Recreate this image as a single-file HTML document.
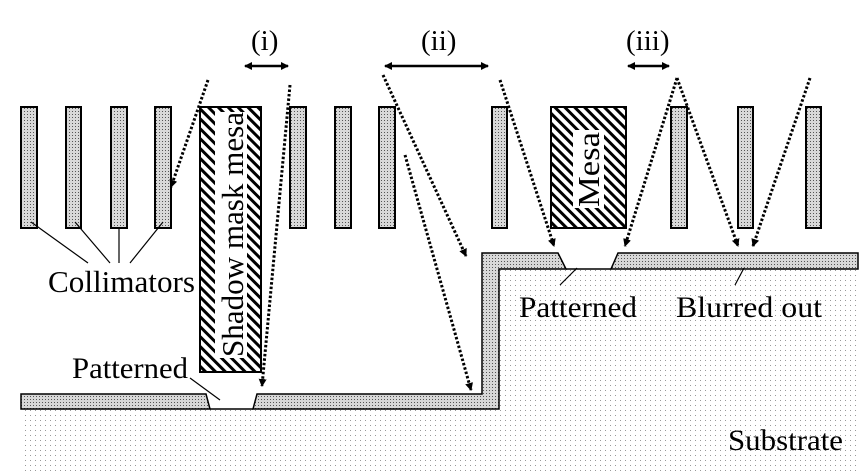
<!DOCTYPE html>
<html><head><meta charset="utf-8"><style>
html,body{margin:0;padding:0;background:#fff;}
svg{display:block;}
text{font-family:"Liberation Serif",serif;fill:#000;}
</style></head><body>
<svg width="865" height="475" viewBox="0 0 865 475" xmlns="http://www.w3.org/2000/svg">
<defs>
<pattern id="dense" width="3" height="3" patternUnits="userSpaceOnUse"><rect width="3" height="3" fill="#d8d8d8"/><rect width="1" height="1" fill="#555"/></pattern>
<pattern id="sparse" width="5" height="5" patternUnits="userSpaceOnUse"><rect width="5" height="5" fill="#fff"/><rect width="1" height="1" fill="#999"/></pattern>
<pattern id="hatch" width="7" height="7" patternUnits="userSpaceOnUse" patternTransform="rotate(-45)"><rect width="7" height="7" fill="#fff"/><rect width="3" height="7" fill="#000"/></pattern>
<marker id="ah" markerWidth="8" markerHeight="8" refX="7" refY="4" orient="auto" markerUnits="userSpaceOnUse"><path d="M0,0 L8,4 L0,8 Z" fill="#000"/></marker>
<marker id="as" markerWidth="8" markerHeight="8" refX="1" refY="4" orient="auto" markerUnits="userSpaceOnUse"><path d="M8,0 L0,4 L8,8 Z" fill="#000"/></marker>
</defs>
<path d="M21,409 L499,409 L499,269 L860,269 L860,472 L21,472 Z" fill="url(#sparse)"/>
<path d="M21,394 L206,394 L210,409 L21,409 Z" fill="url(#dense)" stroke="#000" stroke-width="1.5"/>
<path d="M257,394 L482,394 L482,253 L558,253 L566,269 L499,269 L499,409 L253,409 Z" fill="url(#dense)" stroke="#000" stroke-width="1.5"/>
<path d="M618,253 L858,253 L858,269 L611,269 Z" fill="url(#dense)" stroke="#000" stroke-width="1.5"/>
<line x1="210" y1="409" x2="253" y2="409" stroke="#000" stroke-width="1.5"/>
<line x1="566" y1="269" x2="611" y2="269" stroke="#000" stroke-width="1.5"/>
<g fill="url(#dense)" stroke="#000" stroke-width="2">
<rect x="21" y="107" width="16" height="121"/><rect x="66" y="107" width="15" height="121"/>
<rect x="111" y="107" width="16" height="121"/><rect x="155" y="107" width="16" height="121"/>
<rect x="290" y="107" width="16" height="121"/><rect x="335" y="107" width="16" height="121"/>
<rect x="379" y="107" width="16" height="121"/><rect x="492" y="107" width="15" height="121"/>
<rect x="671" y="107" width="16" height="121"/><rect x="738" y="107" width="15" height="121"/>
<rect x="806" y="107" width="15" height="121"/>
</g>
<rect x="200" y="107" width="61" height="265" fill="url(#hatch)" stroke="#000" stroke-width="2"/>
<rect x="215" y="112" width="32" height="246" fill="#fff"/>
<rect x="551" y="107" width="75" height="121" fill="url(#hatch)" stroke="#000" stroke-width="2"/>
<rect x="573" y="130" width="31" height="78" fill="#fff"/>
<text transform="translate(243,357) rotate(-90)" font-size="31" textLength="245" lengthAdjust="spacingAndGlyphs">Shadow mask mesa</text>
<text transform="translate(599,207) rotate(-90)" font-size="31" textLength="75" lengthAdjust="spacingAndGlyphs">Mesa</text>
<g stroke="#000" stroke-width="1.2">
<line x1="31" y1="222" x2="88" y2="263"/><line x1="75" y1="222" x2="110" y2="263"/>
<line x1="119" y1="228" x2="119" y2="263"/><line x1="163" y1="222" x2="130" y2="263"/>
<line x1="190" y1="378" x2="220" y2="400"/>
<line x1="560" y1="285" x2="577" y2="268"/><line x1="735" y1="285" x2="744" y2="268"/>
</g>
<text x="48" y="292" font-size="31" textLength="147" lengthAdjust="spacingAndGlyphs">Collimators</text>
<text x="72" y="378" font-size="30" textLength="116" lengthAdjust="spacingAndGlyphs">Patterned</text>
<text x="519" y="317" font-size="30" textLength="118" lengthAdjust="spacingAndGlyphs">Patterned</text>
<text x="676" y="317" font-size="30" textLength="146" lengthAdjust="spacingAndGlyphs">Blurred out</text>
<text x="728" y="450" font-size="30" textLength="115" lengthAdjust="spacingAndGlyphs">Substrate</text>
<g stroke="#000" stroke-width="2.5">
<line x1="245" y1="66" x2="288" y2="66" marker-end="url(#ah)" marker-start="url(#as)"/>
<line x1="385" y1="66" x2="488" y2="66" marker-end="url(#ah)" marker-start="url(#as)"/>
<line x1="628" y1="66" x2="669" y2="66" marker-end="url(#ah)" marker-start="url(#as)"/>
</g>
<text x="251" y="50" font-size="29">(i)</text>
<text x="421" y="50" font-size="29">(ii)</text>
<text x="626" y="50" font-size="29">(iii)</text>
<g stroke="#000" stroke-width="3" stroke-dasharray="2.5,2" fill="none" marker-end="url(#ah)">
<line x1="208" y1="80" x2="171" y2="187"/>
<line x1="290" y1="85" x2="262" y2="386"/>
<line x1="383" y1="75" x2="466" y2="256"/>
<line x1="405" y1="155" x2="471" y2="390"/>
<line x1="500" y1="80" x2="554" y2="246"/>
<line x1="677" y1="78" x2="625" y2="246"/>
<line x1="677" y1="78" x2="738" y2="246"/>
<line x1="810" y1="78" x2="753" y2="246"/>
</g>
</svg>
</body></html>
